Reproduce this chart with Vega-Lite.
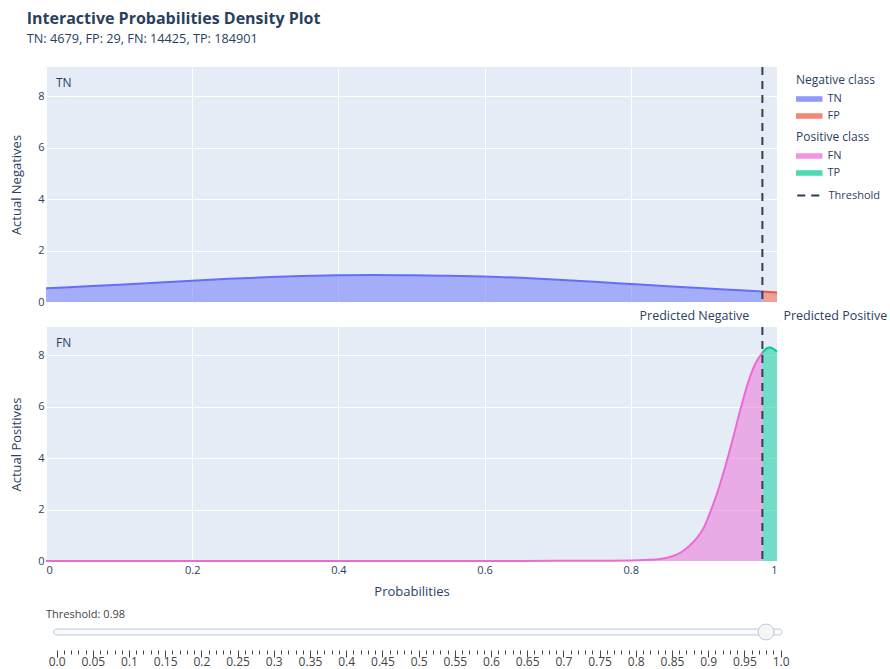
{
  "$schema": "https://vega.github.io/schema/vega-lite/v6.json",
  "background": "white",
  "padding": {"left": 10, "top": 11, "right": 5, "bottom": 2},
  "title": {
    "text": "Interactive Probabilities Density Plot",
    "subtitle": "TN: 4679, FP: 29, FN: 14425, TP: 184901",
    "anchor": "start",
    "frame": "bounds",
    "font": "Open Sans",
    "fontSize": 16,
    "fontWeight": "bold",
    "color": "#2a3f5f",
    "subtitleFont": "Open Sans",
    "subtitleFontSize": 12.7,
    "subtitleColor": "#2a3f5f",
    "subtitlePadding": 6,
    "offset": 20,
    "dx": 16
  },
  "config": {
    "font": "Open Sans",
    "view": {"fill": "#E5ECF6", "stroke": null},
    "axis": {
      "gridColor": "white",
      "gridWidth": 1,
      "domain": false,
      "ticks": false,
      "labelColor": "#2a3f5f",
      "titleColor": "#2a3f5f",
      "labelFontSize": 11,
      "titleFontSize": 13,
      "titleFontWeight": "normal",
      "labelFont": "Open Sans",
      "titleFont": "Open Sans"
    },
    "legend": {
      "titleFont": "Open Sans",
      "titleFontSize": 12,
      "titleFontWeight": "normal",
      "titleColor": "#2a3f5f",
      "labelFont": "Open Sans",
      "labelFontSize": 11,
      "labelColor": "#2a3f5f",
      "symbolType": "M-1,-0.34H3V0.34H-1Z",
      "symbolSize": 156,
      "symbolOpacity": 0.7,
      "titlePadding": 5,
      "rowPadding": 4,
      "labelOffset": 17.5
    }
  },
  "datasets": {
    "neg": [
      {"p": 0.0, "density": 0.53, "cls": "TN"},
      {"p": 0.05, "density": 0.6, "cls": "TN"},
      {"p": 0.1, "density": 0.67, "cls": "TN"},
      {"p": 0.15, "density": 0.75, "cls": "TN"},
      {"p": 0.2, "density": 0.83, "cls": "TN"},
      {"p": 0.25, "density": 0.9, "cls": "TN"},
      {"p": 0.3, "density": 0.96, "cls": "TN"},
      {"p": 0.35, "density": 1.01, "cls": "TN"},
      {"p": 0.4, "density": 1.04, "cls": "TN"},
      {"p": 0.45, "density": 1.05, "cls": "TN"},
      {"p": 0.5, "density": 1.04, "cls": "TN"},
      {"p": 0.55, "density": 1.02, "cls": "TN"},
      {"p": 0.6, "density": 0.99, "cls": "TN"},
      {"p": 0.65, "density": 0.94, "cls": "TN"},
      {"p": 0.7, "density": 0.87, "cls": "TN"},
      {"p": 0.75, "density": 0.79, "cls": "TN"},
      {"p": 0.8, "density": 0.7, "cls": "TN"},
      {"p": 0.85, "density": 0.61, "cls": "TN"},
      {"p": 0.9, "density": 0.53, "cls": "TN"},
      {"p": 0.95, "density": 0.46, "cls": "TN"},
      {"p": 0.98, "density": 0.41, "cls": "TN"},
      {"p": 0.98, "density": 0.41, "cls": "FP"},
      {"p": 0.99, "density": 0.39, "cls": "FP"},
      {"p": 1.0, "density": 0.37, "cls": "FP"}
    ],
    "pos": [
      {"p": 0.0, "density": 0.0, "cls": "FN"},
      {"p": 0.2, "density": 0.0, "cls": "FN"},
      {"p": 0.4, "density": 0.0, "cls": "FN"},
      {"p": 0.6, "density": 0.0, "cls": "FN"},
      {"p": 0.7, "density": 0.005, "cls": "FN"},
      {"p": 0.76, "density": 0.01, "cls": "FN"},
      {"p": 0.8, "density": 0.02, "cls": "FN"},
      {"p": 0.82, "density": 0.04, "cls": "FN"},
      {"p": 0.84, "density": 0.08, "cls": "FN"},
      {"p": 0.86, "density": 0.22, "cls": "FN"},
      {"p": 0.87, "density": 0.36, "cls": "FN"},
      {"p": 0.88, "density": 0.58, "cls": "FN"},
      {"p": 0.89, "density": 0.88, "cls": "FN"},
      {"p": 0.9, "density": 1.3, "cls": "FN"},
      {"p": 0.91, "density": 2.0, "cls": "FN"},
      {"p": 0.92, "density": 2.8, "cls": "FN"},
      {"p": 0.93, "density": 3.75, "cls": "FN"},
      {"p": 0.94, "density": 4.8, "cls": "FN"},
      {"p": 0.95, "density": 5.9, "cls": "FN"},
      {"p": 0.96, "density": 6.9, "cls": "FN"},
      {"p": 0.97, "density": 7.65, "cls": "FN"},
      {"p": 0.98, "density": 8.1, "cls": "FN"},
      {"p": 0.98, "density": 8.1, "cls": "TP"},
      {"p": 0.985, "density": 8.25, "cls": "TP"},
      {"p": 0.99, "density": 8.3, "cls": "TP"},
      {"p": 0.995, "density": 8.25, "cls": "TP"},
      {"p": 1.0, "density": 8.15, "cls": "TP"}
    ],
    "thr": [{"threshold": 0.98, "label": "Threshold"}]
  },
  "vconcat": [
    {
      "vconcat": [
        {
          "width": 731,
          "height": 235,
          "layer": [
            {
              "data": {"name": "neg"},
              "mark": {"type": "area", "fillOpacity": 0.5, "interpolate": "monotone"},
              "encoding": {
                "x": {"field": "p", "type": "quantitative", "scale": {"domain": [0, 1], "nice": false},
                      "axis": {"labels": false, "title": null, "values": [0, 0.2, 0.4, 0.6, 0.8, 1]}},
                "y": {"field": "density", "type": "quantitative", "stack": null, "scale": {"domain": [0, 9.14], "nice": false},
                      "axis": {"values": [0, 2, 4, 6, 8], "title": "Actual Negatives", "labelPadding": 2, "titlePadding": 14}},
                "color": {"field": "cls", "type": "nominal",
                          "scale": {"domain": ["TN", "FP"], "range": ["#636EFA", "#EF553B"]},
                          "legend": {"title": "Negative class", "orient": "none", "legendX": 750, "legendY": 8}}
              }
            },
            {
              "data": {"name": "neg"},
              "mark": {"type": "line", "strokeWidth": 2, "interpolate": "monotone"},
              "encoding": {
                "x": {"field": "p", "type": "quantitative"},
                "y": {"field": "density", "type": "quantitative"},
                "color": {"field": "cls", "type": "nominal"}
              }
            },
            {
              "data": {"name": "thr"},
              "mark": {"type": "rule", "strokeWidth": 2, "color": "#333f4f"},
              "encoding": {
                "x": {"field": "threshold", "type": "quantitative"},
                "strokeDash": {"field": "label", "type": "nominal", "scale": {"domain": ["Threshold"], "range": [[8, 6]]},
                               "legend": {"title": null, "orient": "none", "legendX": 750, "legendY": 121, "symbolType": "M-1,0H3", "symbolFillColor": "transparent", "symbolStrokeColor": "#333f4f", "symbolStrokeWidth": 2, "symbolOpacity": 1}}
              }
            },
            {
              "data": {"values": [{"label": "TN"}]},
              "mark": {"type": "text", "align": "left", "baseline": "middle", "fontSize": 12, "color": "#2a3f5f"},
              "encoding": {
                "x": {"datum": 0.0137},
                "y": {"datum": 8.52},
                "text": {"field": "label"}
              }
            }
          ]
        },
        {
          "width": 731,
          "height": 234,
          "layer": [
            {
              "data": {"name": "pos"},
              "mark": {"type": "area", "fillOpacity": 0.5, "interpolate": "monotone"},
              "encoding": {
                "x": {"field": "p", "type": "quantitative", "scale": {"domain": [0, 1], "nice": false},
                      "axis": {"title": "Probabilities", "values": [0, 0.2, 0.4, 0.6, 0.8, 1], "format": "~g", "labelPadding": 3, "titlePadding": 10}},
                "y": {"field": "density", "type": "quantitative", "stack": null, "scale": {"domain": [0, 9.1], "nice": false},
                      "axis": {"values": [0, 2, 4, 6, 8], "title": "Actual Positives", "labelPadding": 2, "titlePadding": 14}},
                "fill": {"field": "cls", "type": "nominal",
                         "scale": {"domain": ["FN", "TP"], "range": ["#ED6AD6", "#00CC96"]},
                         "legend": {"title": "Positive class", "orient": "none", "legendX": 750, "legendY": 65}}
              }
            },
            {
              "data": {"name": "pos"},
              "mark": {"type": "line", "strokeWidth": 2, "interpolate": "monotone"},
              "encoding": {
                "x": {"field": "p", "type": "quantitative"},
                "y": {"field": "density", "type": "quantitative"},
                "stroke": {"field": "cls", "type": "nominal",
                           "scale": {"domain": ["FN", "TP"], "range": ["#ED6AD6", "#00CC96"]}, "legend": null}
              }
            },
            {
              "data": {"name": "thr"},
              "mark": {"type": "rule", "strokeWidth": 2, "color": "#333f4f"},
              "encoding": {
                "x": {"field": "threshold", "type": "quantitative"},
                "strokeDash": {"field": "label", "type": "nominal"}
              }
            },
            {
              "data": {"values": [{"label": "FN"}]},
              "mark": {"type": "text", "align": "left", "baseline": "middle", "fontSize": 12, "color": "#2a3f5f"},
              "encoding": {
                "x": {"datum": 0.0137},
                "y": {"datum": 8.48},
                "text": {"field": "label"}
              }
            },
            {
              "data": {"values": [{"label": "Predicted Negative"}]},
              "mark": {"type": "text", "align": "right", "baseline": "middle", "fontSize": 12.5, "color": "#2a3f5f", "dx": -13},
              "encoding": {
                "x": {"datum": 0.98},
                "y": {"datum": 9.53},
                "text": {"field": "label"}
              }
            },
            {
              "data": {"values": [{"label": "Predicted Positive"}]},
              "mark": {"type": "text", "align": "left", "baseline": "middle", "fontSize": 12.5, "color": "#2a3f5f", "dx": 21},
              "encoding": {
                "x": {"datum": 0.98},
                "y": {"datum": 9.53},
                "text": {"field": "label"}
              }
            }
          ]
        }
      ],
      "spacing": 25,
      "bounds": "flush",
      "resolve": {"scale": {"y": "independent"}}
    },
    {
      "width": 741,
      "height": 36,
      "view": {"fill": null, "stroke": null},
      "title": {"text": "Threshold: 0.98", "anchor": "start", "frame": "group", "fontSize": 11, "fontWeight": "normal", "color": "#444", "offset": -6},
      "data": {"name": "thr"},
      "layer": [
        {
          "mark": {"type": "rect", "fill": "#f8fafc", "stroke": "#bec8d9", "strokeWidth": 1, "cornerRadius": 3, "height": 6},
          "encoding": {
            "x": {"datum": -0.004, "type": "quantitative", "scale": {"domain": [-0.01464, 1.00885], "nice": false, "zero": false},
                  "axis": {
                    "values": [0, 0.01, 0.02, 0.03, 0.04, 0.05, 0.06, 0.07, 0.08, 0.09, 0.1, 0.11, 0.12, 0.13, 0.14, 0.15, 0.16, 0.17, 0.18, 0.19, 0.2, 0.21, 0.22, 0.23, 0.24, 0.25, 0.26, 0.27, 0.28, 0.29, 0.3, 0.31, 0.32, 0.33, 0.34, 0.35, 0.36, 0.37, 0.38, 0.39, 0.4, 0.41, 0.42, 0.43, 0.44, 0.45, 0.46, 0.47, 0.48, 0.49, 0.5, 0.51, 0.52, 0.53, 0.54, 0.55, 0.56, 0.57, 0.58, 0.59, 0.6, 0.61, 0.62, 0.63, 0.64, 0.65, 0.66, 0.67, 0.68, 0.69, 0.7, 0.71, 0.72, 0.73, 0.74, 0.75, 0.76, 0.77, 0.78, 0.79, 0.8, 0.81, 0.82, 0.83, 0.84, 0.85, 0.86, 0.87, 0.88, 0.89, 0.9, 0.91, 0.92, 0.93, 0.94, 0.95, 0.96, 0.97, 0.98, 0.99, 1],
                    "tickCount": 500,
                    "grid": false,
                    "domain": false,
                    "ticks": true,
                    "tickColor": "#444",
                    "tickWidth": 1,
                    "tickSize": {"condition": {"test": "abs(datum.value * 20 - round(datum.value * 20)) < 0.001", "value": 7}, "value": 4},
                    "labelPadding": -0.5,
                    "labelColor": "#444",
                    "labelFontSize": 12,
                    "labelOverlap": false,
                    "labelBound": false,
                    "labelFlush": false,
                    "labelExpr": "abs(datum.value * 20 - round(datum.value * 20)) < 0.001 ? (datum.value == 0 ? '0.0' : datum.value == 1 ? '1.0' : format(datum.value, '.2~f')) : ''",
                    "title": null
                  }},
            "x2": {"datum": 1.002},
            "y": {"datum": 0.5, "type": "quantitative", "scale": {"domain": [0, 1]}, "axis": null}
          }
        },
        {
          "mark": {"type": "circle", "size": 254, "fill": "#f6f6f6", "stroke": "#bec8d9", "strokeWidth": 1, "opacity": 1},
          "encoding": {
            "x": {"field": "threshold", "type": "quantitative"},
            "y": {"datum": 0.5, "type": "quantitative"}
          }
        }
      ]
    }
  ],
  "spacing": 11,
  "resolve": {"scale": {"x": "independent", "y": "independent"}}
}
